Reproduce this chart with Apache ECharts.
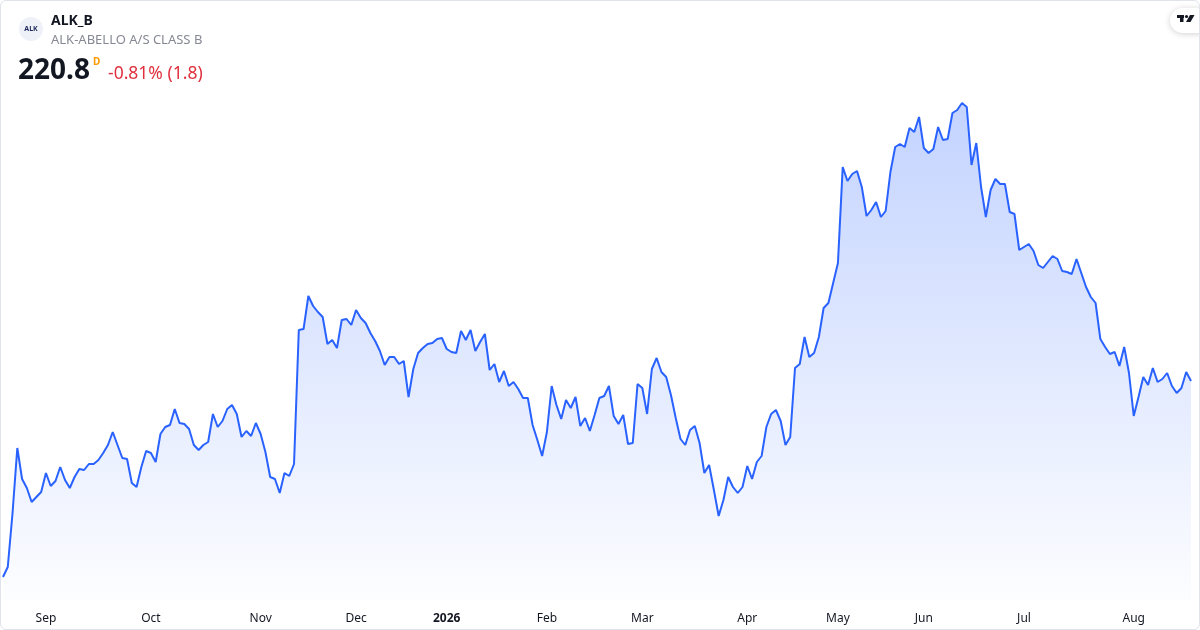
<!DOCTYPE html>
<html><head><meta charset="utf-8">
<script src="https://cdn.jsdelivr.net/npm/echarts@6/dist/echarts.min.js"></script>
<style>
html,body{margin:0;padding:0;background:#fff;}
#chart{position:absolute;left:0;top:0;width:1200px;height:630px;}
#frame{position:absolute;left:0;top:0;width:1198px;height:628px;border:1px solid #e0e3eb;border-radius:6px;pointer-events:none;}
</style></head><body>
<div id="chart"></div><div id="frame"></div>
<script>
// Daily closing prices (DKK), one per trading day, Aug 19 2025 .. Aug 19 2026
const closes = [
181.6,183.6,194.4,207.4,201.2,199.4,196.6,197.6,198.6,202.4,
199.8,200.8,203.6,201.0,199.4,201.6,203.2,203.0,204.2,204.2,
205.0,206.4,208.0,210.6,208.0,205.4,205.2,200.4,199.6,203.6,
206.8,206.4,204.6,210.2,211.6,212.0,215.2,212.4,212.2,211.2,
208.0,207.0,208.0,208.6,214.2,211.6,212.8,215.2,216.0,214.2,
209.6,210.8,209.8,212.4,210.2,206.6,201.6,201.2,198.4,202.4,
201.8,204.2,231.0,231.2,237.8,235.8,234.6,233.6,228.2,229.0,
227.4,233.0,233.2,232.0,235.0,233.4,232.4,230.4,228.8,226.8,
224.0,225.6,225.6,224.2,224.8,217.6,223.2,226.4,227.4,228.2,
228.4,229.2,229.4,227.2,226.6,226.4,230.8,229.0,231.0,226.8,
228.6,230.2,223.0,224.2,220.6,222.8,219.8,220.6,219.2,217.4,
217.4,212.0,209.0,205.8,210.6,219.8,216.0,213.2,217.0,215.4,
217.6,211.8,213.4,210.8,214.0,217.4,217.8,219.8,213.8,212.2,
214.0,208.2,208.4,220.2,219.4,214.2,223.2,225.4,222.6,221.6,
218.0,213.4,209.2,208.0,211.0,211.8,208.4,202.4,204.0,199.0,
193.8,197.0,201.6,199.6,198.4,199.6,203.8,201.2,204.6,205.8,
211.6,214.2,215.0,212.8,208.0,209.6,223.4,224.2,229.6,225.6,
226.4,229.6,235.4,236.4,240.4,244.4,263.6,260.8,262.2,262.8,
259.6,253.8,255.0,256.6,253.6,254.8,262.6,267.6,268.2,267.6,
271.4,270.6,273.6,267.4,266.4,267.2,271.6,269.0,269.2,274.4,
275.0,276.4,275.6,264.0,268.4,259.6,253.6,259.0,261.2,260.2,
260.2,254.6,254.2,247.0,247.6,248.2,246.8,244.0,243.4,244.6,
245.8,245.2,242.8,242.6,242.2,245.2,242.4,239.6,237.6,236.4,
229.2,227.6,226.2,226.6,223.8,227.6,222.4,213.8,217.6,221.6,
220.0,223.4,220.6,221.2,222.4,219.8,218.4,219.4,222.6,220.8
];
const startDate = '2025-08-19';
const holidays = ['2025-12-24','2025-12-25','2025-12-26','2025-12-31','2026-01-01',
  '2026-04-02','2026-04-03','2026-04-06','2026-05-14','2026-05-15','2026-05-25','2026-06-05'];
const monthNames = ['Jan','Feb','Mar','Apr','May','Jun','Jul','Aug','Sep','Oct','Nov','Dec'];
const symbol = 'ALK_B';
const fullName = 'ALK-ABELLO A/S CLASS B';
const lastPrice = '220.8';
const changeText = '-0.81% (1.8)';

// trading-day calendar (weekdays, minus exchange holidays)
const dates = [];
(function(){
  const d = new Date(startDate + 'T00:00:00Z');
  while (dates.length < closes.length) {
    const wd = d.getUTCDay();
    const s = d.toISOString().slice(0,10);
    if (wd !== 0 && wd !== 6 && holidays.indexOf(s) < 0) dates.push(s);
    d.setUTCDate(d.getUTCDate() + 1);
  }
})();
const monthStart = dates.map((s,i) => i > 0 && s.slice(0,7) !== dates[i-1].slice(0,7));

const FONT = '"Noto Sans", "Open Sans", sans-serif';
const chart = echarts.init(document.getElementById('chart'), null, {renderer:'canvas'});
chart.setOption({
  animation: false,
  backgroundColor: '#ffffff',
  grid: {left: 3, right: 9, top: 0, bottom: 30},
  xAxis: {
    type: 'category', data: dates, boundaryGap: false,
    axisLine: {show: false}, axisTick: {show: false}, splitLine: {show: false},
    axisLabel: {
      interval: (i) => monthStart[i],
      margin: 13, color: '#131722', fontSize: 12, fontFamily: FONT,
      hideOverlap: false,
      formatter: (v) => {
        const m = parseInt(v.slice(5,7),10) - 1;
        return m === 0 ? '{y|' + v.slice(0,4) + '}' : monthNames[m];
      },
      rich: {y: {fontWeight: 'bold', color: '#131722', fontSize: 12, fontFamily: FONT}}
    }
  },
  yAxis: {type: 'value', min: 177, max: 297, show: false},
  series: [{
    type: 'line', data: closes, symbol: 'none', smooth: false,
    lineStyle: {color: '#2962ff', width: 2},
    areaStyle: {opacity: 1, color: {type: 'linear', x: 0, y: 0, x2: 0, y2: 1, colorStops: [
      {offset: 0, color: 'rgba(41,98,255,0.28)'},
      {offset: 1, color: 'rgba(41,98,255,0.01)'}]}}
  }],
  graphic: [
    {type: 'circle', shape: {cx: 31, cy: 29, r: 12}, style: {fill: '#eef1f8'}},
    {type: 'text', x: 31, y: 29, style: {text: 'ALK', fill: '#1f2c5c', font: 'bold 7px ' + FONT, textAlign: 'center', textVerticalAlign: 'middle'}},
    {type: 'text', x: 51, y: 21, style: {text: symbol, fill: '#131722', font: 'bold 14px ' + FONT, textVerticalAlign: 'middle'}},
    {type: 'text', x: 51, y: 40, style: {text: fullName, fill: '#868993', font: '13px ' + FONT, textVerticalAlign: 'middle'}},
    {type: 'text', x: 18, y: 71, style: {text: lastPrice, fill: '#131722', font: 'bold 28px ' + FONT, textVerticalAlign: 'middle'}},
    {type: 'text', x: 93, y: 62, style: {text: 'D', fill: '#ff9800', font: 'bold 10px ' + FONT, textVerticalAlign: 'middle'}},
    {type: 'text', x: 108, y: 74, style: {text: changeText, fill: '#e0313f', font: '17.5px ' + FONT, textVerticalAlign: 'middle'}},
    {type: 'rect', shape: {x: 1170, y: 8, width: 40, height: 25, r: 12.5},
      style: {fill: '#ffffff', shadowBlur: 6, shadowColor: 'rgba(0,0,0,0.18)', shadowOffsetY: 1}},
    {type: 'rect', shape: {x: 1177, y: 15, width: 7, height: 3}, style: {fill: '#131722'}},
    {type: 'rect', shape: {x: 1180, y: 15, width: 3.5, height: 7}, style: {fill: '#131722'}},
    {type: 'circle', shape: {cx: 1186.5, cy: 16.5, r: 1.6}, style: {fill: '#131722'}},
    {type: 'polygon', shape: {points: [[1190,15],[1194.5,15],[1190.5,22],[1186,22]]}, style: {fill: '#131722'}}
  ]
});
</script>
</body></html>
